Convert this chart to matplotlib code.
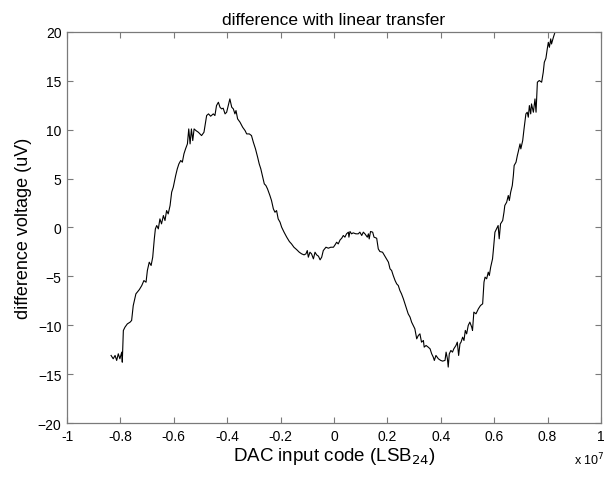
import numpy as np
import matplotlib
matplotlib.use('Agg')
import matplotlib.pyplot as plt
from matplotlib.ticker import MultipleLocator, FuncFormatter

plt.rcParams['font.family'] = ['Liberation Sans', 'DejaVu Sans']

# DAC input code (in units of 1e7 LSB24) and difference voltage (uV)
code_e7 = [
    -0.835, -0.827, -0.820, -0.814, -0.808, -0.802, -0.795, -0.793, -0.789, -0.783,
    -0.774, -0.764, -0.758, -0.752, -0.742, -0.729, -0.720, -0.712, -0.704, -0.699,
    -0.692, -0.685, -0.679, -0.673, -0.669, -0.664, -0.658, -0.652, -0.646, -0.639,
    -0.633, -0.627, -0.621, -0.614, -0.608, -0.602, -0.593, -0.587, -0.581, -0.574,
    -0.568, -0.562, -0.556, -0.549, -0.544, -0.539, -0.534, -0.529, -0.524, -0.517,
    -0.508, -0.496, -0.487, -0.477, -0.470, -0.462, -0.452, -0.446, -0.440, -0.433,
    -0.427, -0.421, -0.415, -0.408, -0.402, -0.396, -0.390, -0.383, -0.377, -0.371,
    -0.367, -0.361, -0.352, -0.342, -0.333, -0.327, -0.317, -0.309, -0.302, -0.294,
    -0.286, -0.280, -0.274, -0.267, -0.261, -0.255, -0.249, -0.240, -0.234, -0.227,
    -0.221, -0.215, -0.209, -0.202, -0.196, -0.187, -0.177, -0.167, -0.159, -0.150,
    -0.140, -0.130, -0.121, -0.112, -0.105, -0.100, -0.096, -0.090, -0.084, -0.077,
    -0.071, -0.065, -0.058, -0.052, -0.046, -0.040, -0.030, -0.021, -0.012, -0.002,
    0.004, 0.010, 0.016, 0.023, 0.029, 0.035, 0.041, 0.047, 0.054, 0.056,
    0.060, 0.066, 0.072, 0.082, 0.091, 0.097, 0.104, 0.110, 0.116, 0.125,
    0.129, 0.132, 0.137, 0.145, 0.150, 0.160, 0.166, 0.172, 0.182, 0.191,
    0.197, 0.204, 0.210, 0.216, 0.222, 0.229, 0.235, 0.241, 0.247, 0.253,
    0.260, 0.266, 0.272, 0.278, 0.285, 0.291, 0.297, 0.303, 0.310, 0.316,
    0.322, 0.328, 0.335, 0.338, 0.345, 0.353, 0.360, 0.366, 0.372, 0.376,
    0.382, 0.391, 0.400, 0.407, 0.416, 0.420, 0.425, 0.428, 0.432, 0.438,
    0.444, 0.449, 0.457, 0.462, 0.467, 0.472, 0.476, 0.482, 0.487, 0.492,
    0.497, 0.503, 0.509, 0.516, 0.519, 0.524, 0.532, 0.541, 0.549, 0.557,
    0.562, 0.566, 0.572, 0.578, 0.582, 0.587, 0.594, 0.597, 0.603, 0.609,
    0.615, 0.619, 0.624, 0.632, 0.637, 0.640, 0.647, 0.653, 0.657, 0.662,
    0.668, 0.672, 0.675, 0.682, 0.687, 0.690, 0.697, 0.700, 0.707, 0.712,
    0.719, 0.724, 0.728, 0.732, 0.737, 0.740, 0.747, 0.753, 0.757, 0.762,
    0.769, 0.778, 0.784, 0.788, 0.794, 0.799, 0.803, 0.807, 0.812, 0.815,
    0.822, 0.828, 0.836,
]
diff_uv = [
    -13.09, -13.43, -13.09, -13.60, -12.92, -13.43, -12.75, -13.78, -10.54, -10.20,
    -9.86, -9.69, -9.51, -8.00, -6.79, -6.35, -5.94, -5.43, -5.60, -4.40,
    -3.55, -3.89, -3.04, -1.16, -0.14, 0.20, -0.14, 0.88, 0.37, 1.22,
    0.71, 1.73, 1.39, 2.24, 3.61, 4.12, 5.31, 5.99, 6.50, 6.85,
    6.68, 7.53, 8.04, 8.55, 10.08, 8.55, 10.08, 8.89, 10.08, 9.91,
    9.74, 9.40, 9.74, 11.45, 11.62, 11.38, 11.62, 11.45, 12.47, 12.81,
    12.30, 12.13, 12.20, 11.62, 11.79, 12.47, 13.15, 12.30, 12.13, 11.62,
    11.96, 11.11, 10.77, 10.25, 9.91, 9.57, 9.57, 9.40, 8.72, 8.04,
    7.19, 6.50, 5.99, 5.14, 4.46, 4.29, 3.95, 3.27, 2.76, 1.90,
    1.56, 1.73, 0.88, 0.54, 0.03, -0.48, -0.99, -1.44, -1.68, -2.02,
    -2.26, -2.53, -2.70, -2.80, -2.70, -2.36, -3.04, -2.53, -2.70, -3.21,
    -2.53, -2.80, -2.94, -3.31, -3.04, -2.36, -2.02, -2.12, -2.02, -2.02,
    -1.78, -1.51, -1.68, -1.27, -1.10, -0.82, -0.99, -0.65, -0.48, -0.99,
    -0.41, -0.65, -0.55, -0.65, -0.65, -0.48, -0.82, -0.48, -0.65, -0.99,
    -0.65, -1.17, -0.41, -0.48, -0.99, -1.10, -2.19, -2.46, -2.53, -2.94,
    -3.21, -3.55, -4.23, -4.40, -4.91, -5.43, -5.77, -5.94, -6.45, -6.79,
    -7.30, -7.81, -8.32, -8.83, -9.17, -9.69, -10.03, -10.36, -11.39, -11.05,
    -10.88, -11.73, -11.56, -12.24, -12.07, -12.24, -12.41, -12.92, -13.26, -13.60,
    -13.09, -13.43, -13.60, -13.67, -13.60, -12.75, -13.43, -14.28, -12.92, -12.58,
    -12.75, -12.41, -12.07, -11.73, -13.09, -11.90, -11.73, -11.22, -11.56, -10.53,
    -10.88, -10.02, -9.68, -10.19, -10.53, -8.66, -8.83, -8.32, -7.98, -7.81,
    -5.59, -5.08, -5.25, -4.57, -4.91, -4.06, -3.21, -2.35, -0.48, -0.14,
    0.20, -1.16, 0.37, 0.71, 1.57, 2.25, 2.59, 3.27, 2.76, 3.61,
    4.29, 5.31, 6.34, 6.68, 7.36, 7.70, 8.55, 8.04, 8.89, 10.08,
    11.62, 11.79, 11.28, 12.47, 11.62, 12.64, 11.79, 13.15, 11.79, 14.86,
    15.03, 14.86, 15.88, 16.90, 17.31, 18.26, 18.94, 18.43, 19.29, 18.77,
    19.46, 19.97, 20.90,
]

x_ticks = [-1, -0.8, -0.6, -0.4, -0.2, 0, 0.2, 0.4, 0.6, 0.8, 1]
y_ticks = [-20, -15, -10, -5, 0, 5, 10, 15, 20]

fig = plt.figure(figsize=(6.06, 4.81), dpi=100)
ax = fig.add_axes([0.1106, 0.1185, 0.881, 0.813])

ax.plot(np.array(code_e7) * 1e7, diff_uv, color='black', linewidth=0.8)

ax.set_xlim(-1e7, 1e7)
ax.set_ylim(-20, 20)
ax.set_xticks([t * 1e7 for t in x_ticks])
ax.xaxis.set_major_formatter(FuncFormatter(lambda v, p: '%g' % round(v / 1e7, 1)))
ax.set_yticks(y_ticks)

for s in ax.spines.values():
    s.set_color('#7a7a7a')
    s.set_linewidth(0.9)
ax.tick_params(direction='in', top=True, right=True, length=4, width=0.8,
               color='#7a7a7a', labelsize=10, pad=4, labelcolor='black')

ax.set_title('difference with linear transfer', fontsize=12.5, pad=6)
ax.set_xlabel('DAC input code (LSB$_{24}$)', fontsize=13.5, labelpad=2)
ax.set_ylabel('difference voltage (uV)', fontsize=13, labelpad=4)
fig.text(0.948, 0.032, 'x 10$^{7}$', fontsize=9)

fig.savefig('out.png', dpi=100)
